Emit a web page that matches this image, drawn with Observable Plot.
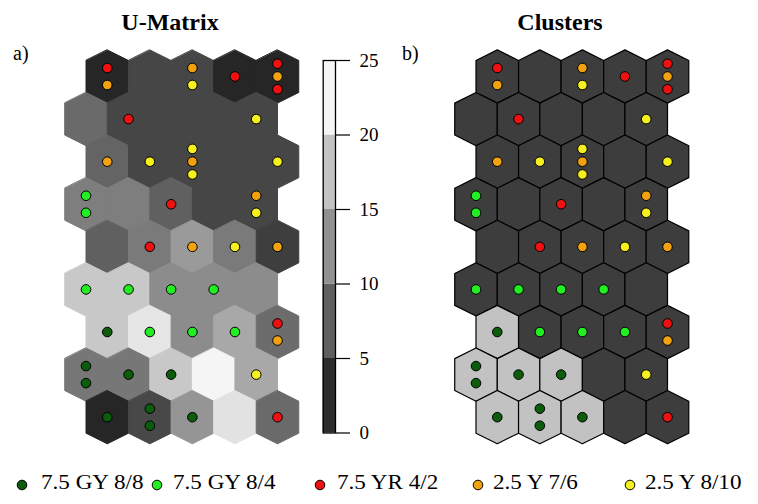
<!DOCTYPE html>
<html>
<head>
<meta charset="utf-8">
<script src="https://cdn.jsdelivr.net/npm/d3@7"></script>
<script src="https://cdn.jsdelivr.net/npm/@observablehq/plot@0.6"></script>
<style>
  body { margin: 0; background: #fff; }
  #fig { position: relative; width: 758px; height: 504px; overflow: hidden;
         font-family: "Liberation Serif", "Times New Roman", serif; color: #000; }
  .abs { position: absolute; white-space: nowrap; }
  .title { font-weight: bold; font-size: 24px; line-height: 24px; width: 200px; text-align: center; }
  .tag { font-size: 20px; line-height: 20px; }
  .key { font-size: 21px; line-height: 20px; transform: scaleX(1.1); transform-origin: 0 50%; }
</style>
</head>
<body>
<div id="fig"></div>
<script>
// SOM of 5 x 9 hexagonal units, rows listed from the top
const gridCols = 5;
const gridRows = 9;

// U-matrix: mean distance of each unit to its neighbours
const umatrix = [
  [1.8, 5.0, 5.0, 1.8, 1.8],
  [8.6, 5.0, 5.0, 5.0, 5.0],
  [8.0, 5.0, 5.0, 5.0, 5.0],
  [10.6, 10.6, 7.6, 5.0, 5.0],
  [7.6, 10.2, 13.4, 10.2, 4.2],
  [18.0, 18.0, 12.0, 12.0, 12.0],
  [18.0, 21.0, 12.0, 14.8, 8.8],
  [9.9, 9.9, 18.0, 22.5, 14.8],
  [1.8, 5.2, 12.9, 20.6, 8.6]
];

// cluster membership of each unit
const clusterId = [
  [1, 1, 1, 1, 1],
  [1, 1, 1, 1, 1],
  [1, 1, 1, 1, 1],
  [1, 1, 1, 1, 1],
  [1, 1, 1, 1, 1],
  [1, 1, 1, 1, 1],
  [2, 1, 1, 1, 1],
  [2, 2, 2, 1, 1],
  [2, 2, 2, 1, 1]
];
const clusterFill = ["#3d3d3d", "#c2c2c2"];

// Munsell colour classes of the samples
const classNames = ["7.5 GY 8/8", "7.5 GY 8/4", "7.5 YR 4/2", "2.5 Y 7/6", "2.5 Y 8/10"];
const classColors = ["#0b5d0b", "#22ee22", "#ee1111", "#f2a20f", "#f5f01e"];

// samples mapped onto each unit (class indices, top to bottom inside the unit)
const hits = [
  [[2, 3], [], [3, 4], [2], [2, 3, 2]],
  [[], [2], [], [], [4]],
  [[3], [4], [4, 3, 4], [], [4]],
  [[1, 1], [], [2], [], [3, 4]],
  [[], [2], [3], [4], [3]],
  [[1], [1], [1], [1], []],
  [[0], [1], [1], [1], [2, 3]],
  [[0, 0], [0], [0], [], [4]],
  [[0], [0, 0], [0], [], [2]]
];

// colour bar breaks
const barTicks = [0, 5, 10, 15, 20, 25];

// ---- derived tables ----
const units = [];
for (let r = 0; r < gridRows; ++r)
  for (let c = 0; c < gridCols; ++c)
    units.push({id: r * gridCols + c, row: r, col: c,
      x: c + (r % 2 === 0 ? 0.5 : 0), y: r,
      v: umatrix[r][c], cluster: clusterId[r][c], hits: hits[r][c]});

// hexagon outline, in grid units around the unit centre
const hexDx = [0, 0.5, 0.5, 0, -0.5, -0.5];
const hexDy = [-0.625, -0.375, 0.375, 0.625, 0.375, -0.375];
const hexVerts = units.flatMap(u => hexDx.map((dx, i) => ({
  id: u.id, x: u.x + dx, y: u.y + hexDy[i], v: u.v, cluster: u.cluster})));

// sample dots stacked vertically inside their unit
const dots = units.flatMap(u => {
  const n = u.hits.length, step = n === 2 ? 0.4 : 0.3;
  return u.hits.map((cls, k) => ({x: u.x, y: u.y + (k - (n - 1) / 2) * step, cls}));
});

const umatColor = {type: "linear", domain: [0, 23.5], range: ["#141414", "#ffffff"], clamp: true};

function dotMarks() {
  return classColors.map((col, k) => Plot.dot(dots.filter(d => d.cls === k),
    {x: "x", y: "y", r: 4.8, fill: col, stroke: "black", strokeWidth: 1}));
}

function gridFrame(color, hexMark) {
  return Plot.plot({
    width: 260, height: 420, margin: 0,
    x: {domain: [0, 4.5], range: [35.5, 227], axis: null},
    y: {domain: [0, gridRows - 1], range: [36, 376.7], axis: null},
    color,
    marks: [hexMark, ...dotMarks()]
  });
}

const fig = document.getElementById("fig");
function place(el, left, top) {
  el.style.position = "absolute"; el.style.left = left + "px"; el.style.top = top + "px";
  fig.appendChild(el);
}

// a) U-matrix
place(gridFrame(umatColor,
  Plot.line(hexVerts, {x: "x", y: "y", z: "id", fill: "v", stroke: "v", strokeWidth: 1, curve: "linear-closed"})
), 50, 40);

// b) clusters
place(gridFrame({type: "ordinal", domain: [1, 2], range: clusterFill},
  Plot.line(hexVerts, {x: "x", y: "y", z: "id", fill: "cluster", stroke: "black", strokeWidth: 1.2, curve: "linear-closed"})
), 439.6, 40);

// colour bar of the U-matrix
const bands = d3.pairs(barTicks).map(([lo, hi]) => ({lo, hi}));
place(Plot.plot({
  width: 100, height: 420,
  marginLeft: 22.7, marginRight: 65, marginTop: 20, marginBottom: 27.5,
  style: {fontFamily: "'Liberation Serif', 'Times New Roman', serif", fontSize: "19px", color: "black"},
  x: {domain: [0, 1], axis: null},
  y: {domain: [0, 25], axis: null},
  color: umatColor,
  marks: [
    Plot.rect(bands, {x1: 0, x2: 1, y1: "lo", y2: "hi", fill: d => (d.lo + d.hi) / 2}),
    Plot.frame({stroke: "black", strokeWidth: 1.3}),
    Plot.axisY(barTicks, {anchor: "right", tickSize: 14, tickPadding: 10, fontSize: 19, label: null, strokeWidth: 1.2})
  ]
}), 300, 40);

// titles and panel tags
function text(str, cls, left, top) {
  const d = document.createElement("div");
  d.className = "abs " + cls; d.textContent = str;
  d.style.left = left + "px"; d.style.top = top + "px";
  fig.appendChild(d);
}
text("U-Matrix", "title", 70, 10);
text("Clusters", "title", 460, 10);
text("a)", "tag", 13, 43);
text("b)", "tag", 402, 43);

// legend of the colour classes
const keyDotX = [21.7, 156.7, 320, 478, 629.7];
const keyTextX = [40.7, 173, 336.7, 493, 644.7];
classNames.forEach((name, k) => {
  const ns = "http://www.w3.org/2000/svg";
  const svg = document.createElementNS(ns, "svg");
  svg.setAttribute("width", 12); svg.setAttribute("height", 12);
  const c = document.createElementNS(ns, "circle");
  c.setAttribute("cx", 6); c.setAttribute("cy", 6); c.setAttribute("r", 4.8);
  c.setAttribute("fill", classColors[k]); c.setAttribute("stroke", "black"); c.setAttribute("stroke-width", 1);
  svg.appendChild(c);
  place(svg, keyDotX[k] - 6, 484.5 - 6);
  text(name, "key", keyTextX[k], 472);
});
</script>
</body>
</html>
